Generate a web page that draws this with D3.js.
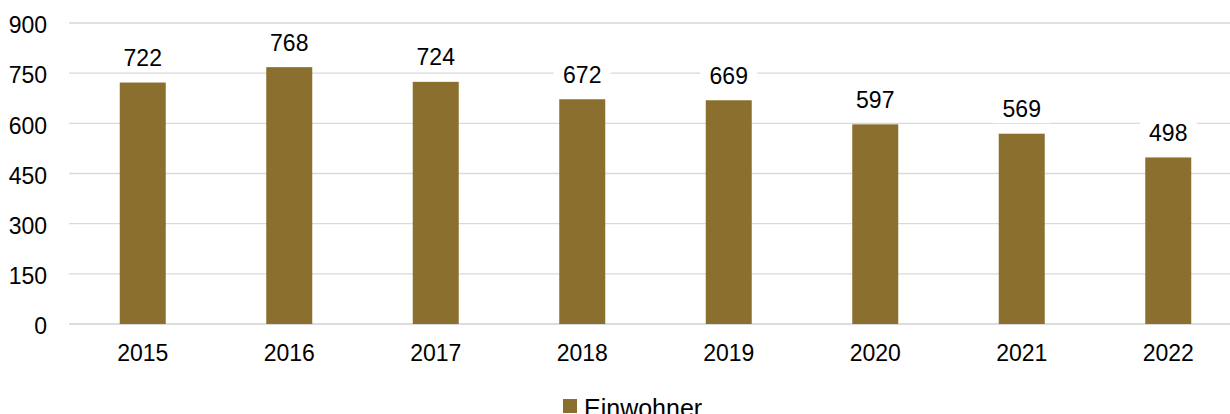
<!DOCTYPE html>
<html><head><meta charset="utf-8">
<script src="https://cdn.jsdelivr.net/npm/d3@7"></script>
<style>body{margin:0;background:#fff}svg{display:block}text{font-family:"Liberation Sans",Arial,sans-serif;fill:#000}</style>
</head><body>
<svg id="c" width="1230" height="414"></svg>
<script>
const categories = ["2015","2016","2017","2018","2019","2020","2021","2022"];
const values = [722,768,724,672,669,597,569,498];
const yTicks = [0,150,300,450,600,750,900];
const seriesName = "Einwohner";

const svg = d3.select("#c");
const x = d3.scaleBand().domain(categories).range([69.5,1241.5]).padding(0);
const y = d3.scaleLinear().domain([0,900]).range([324,23]);
const barW = x.bandwidth()*0.314;
const color = "#8b6f2f";

// gridlines
svg.append("g").selectAll("line").data(yTicks).join("line")
  .attr("x1",69).attr("x2",1230).attr("y1",d=>y(d)).attr("y2",d=>y(d))
  .attr("stroke",d=>d===0?"#d0d0d0":"#d9d9d9").attr("stroke-width",d=>d===0?1.5:1.3);

// y labels
svg.append("g").selectAll("text").data(yTicks).join("text")
  .attr("x",47).attr("y",d=>y(d)+10.3).attr("text-anchor","end")
  .style("font-size","23px").text(d=>d);

// bars
svg.append("g").selectAll("rect").data(values).join("rect")
  .attr("x",(d,i)=>x(categories[i])+x.bandwidth()/2-barW/2)
  .attr("width",barW)
  .attr("y",d=>y(d)).attr("height",d=>y(0)-y(d))
  .attr("fill",color);

// value labels with white boxes
const lg = svg.append("g").selectAll("g").data(values).join("g")
  .attr("transform",(d,i)=>`translate(${x(categories[i])+x.bandwidth()/2},${y(d)-16.5})`);
lg.append("rect").attr("x",-28.5).attr("width",57).attr("y",-22).attr("height",28).attr("fill","#fff");
lg.append("text").attr("text-anchor","middle").style("font-size","23px").text(d=>d);

// x labels
svg.append("g").selectAll("text").data(categories).join("text")
  .attr("x",d=>x(d)+x.bandwidth()/2).attr("y",360.5).attr("text-anchor","middle")
  .style("font-size","23px").text(d=>d);

// legend
svg.append("rect").attr("x",563).attr("y",399).attr("width",14).attr("height",14).attr("fill",color);
svg.append("text").attr("x",584).attr("y",416.5).style("font-size","25px").text(seriesName);
</script>
</body></html>
